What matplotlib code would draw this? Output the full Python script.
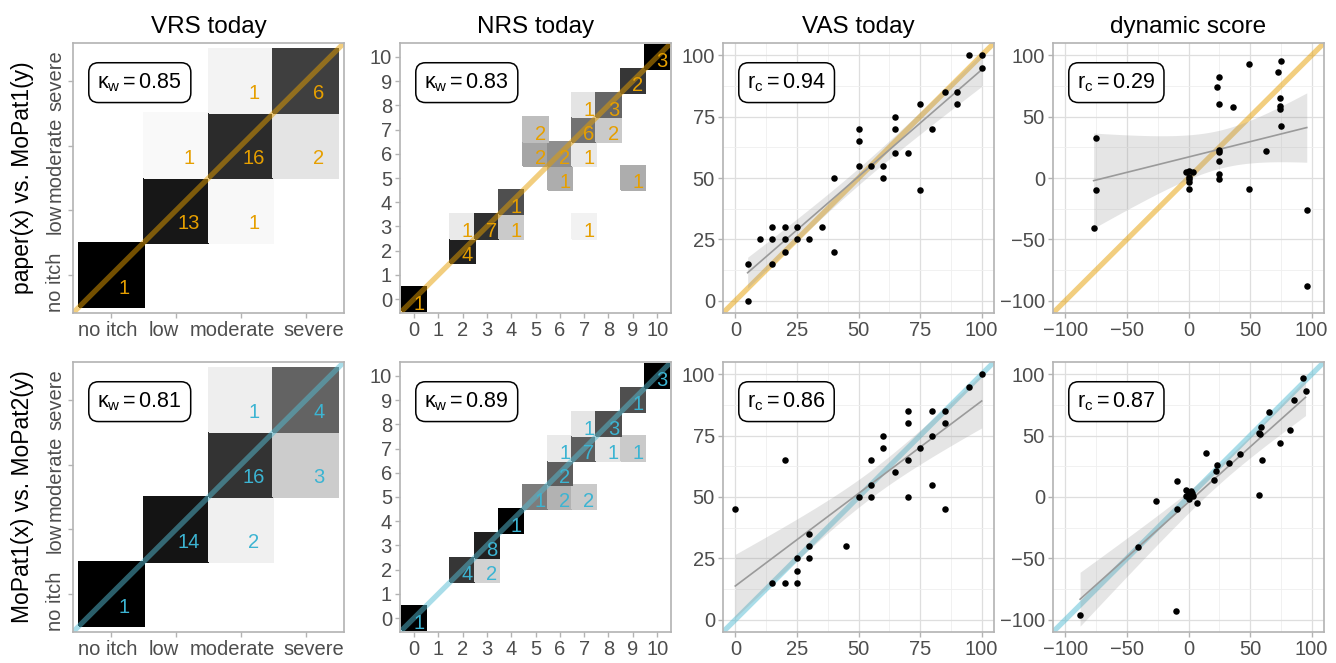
import numpy as np
import matplotlib
matplotlib.use("Agg")
import matplotlib.pyplot as plt
from matplotlib.colors import PowerNorm
from matplotlib.transforms import ScaledTranslation

# -------------------------
# Fonts
# -------------------------
plt.rcParams["font.family"] = ["Liberation Sans", "DejaVu Sans"]
plt.rcParams["mathtext.fontset"] = "custom"
plt.rcParams["mathtext.rm"] = "Liberation Sans"
plt.rcParams["mathtext.it"] = "Liberation Sans"

# -------------------------
# Data
# -------------------------
TITLES = ["VRS today", "NRS today", "VAS today", "dynamic score"]
ROW_LABELS = ["paper(x) vs. MoPat1(y)", "MoPat1(x) vs. MoPat2(y)"]
VRS_LEVELS = ["no itch", "low", "moderate", "severe"]
NRS_LEVELS = [str(i) for i in range(11)]

# VRS tiles (x index, y index, count)
vrs1_x = [0, 1, 2, 1, 2, 3, 2, 3]
vrs1_y = [0, 1, 1, 2, 2, 2, 3, 3]
vrs1_n = [1, 13, 1, 1, 16, 2, 1, 6]

vrs2_x = [0, 1, 2, 2, 3, 2, 3]
vrs2_y = [0, 1, 1, 2, 2, 3, 3]
vrs2_n = [1, 14, 2, 16, 3, 1, 4]

# NRS tiles
nrs1_x = [0, 2, 2, 3, 4, 4, 7, 6, 9, 5, 6, 7, 5, 7, 8, 7, 8, 9, 10]
nrs1_y = [0, 2, 3, 3, 3, 4, 3, 5, 5, 6, 6, 6, 7, 7, 7, 8, 8, 9, 10]
nrs1_n = [1, 4, 1, 7, 1, 1, 1, 1, 1, 2, 2, 1, 2, 6, 2, 1, 3, 2, 3]

nrs2_x = [0, 2, 3, 3, 4, 5, 6, 7, 6, 6, 7, 8, 9, 7, 8, 9, 10]
nrs2_y = [0, 2, 2, 3, 4, 5, 5, 5, 6, 7, 7, 7, 7, 8, 8, 9, 10]
nrs2_n = [1, 4, 2, 8, 1, 1, 2, 2, 2, 1, 7, 1, 1, 1, 3, 1, 3]

# VAS points
vas1_x = [5, 5, 10, 15, 15, 15, 20, 20, 20, 25, 25, 30, 35, 40, 40, 50, 50, 50,
          55, 60, 60, 65, 65, 65, 70, 75, 75, 80, 85, 90, 90, 95, 100, 100]
vas1_y = [15, 0, 25, 30, 25, 15, 30, 25, 20, 30, 25, 25, 30, 50, 20, 70, 65, 55,
          55, 55, 50, 75, 70, 60, 60, 80, 45, 70, 85, 85, 80, 100, 100, 95]

vas2_x = [0, 15, 20, 20, 25, 25, 25, 30, 30, 30, 45, 50, 55, 55, 55, 60, 60, 65,
          70, 70, 70, 70, 75, 80, 80, 80, 85, 85, 85, 95, 100]
vas2_y = [45, 15, 15, 65, 15, 20, 25, 25, 30, 35, 30, 50, 50, 55, 65, 70, 75, 60,
          50, 65, 80, 85, 70, 75, 85, 55, 85, 80, 45, 95, 100]

# dynamic score points
dyn1_x = [-75, -75, -77, -2, 0.5, 4, 0, 0, 0, 0, 25, 23, 25, 25, 25, 25, 25, 25,
          36, 49, 49, 63, 73, 75, 74, 74, 74, 75, 96, 96]
dyn1_y = [33, -10, -41, 5, 6, 5, 1, -1, -3, -9, 82, 74, 60, 23, 21, 14, 3, -1,
          58, 93, -9, 22, 86, 95, 65, 59, 56, 42, -26, -88]

dyn2_x = [-88, -41, -26, -9, -9, -10, -2, -2, -0.5, 0.5, 2, 3, 4, 7, 14, 21, 22,
          23, 33, 42, 57, 57, 58, 59, 60, 65, 74, 82, 86, 93, 95]
dyn2_y = [-96, -41, -3, 13, -10, -93, 6, 1, 2, -2, 5, 3, 1, -5, 36, 14, 21,
          26, 28, 35, 2, 52, 51, 57, 30, 69, 44, 55, 79, 97, 86]

# agreement statistics shown in the boxes
KAPPA = [["0.85", "0.83"], ["0.81", "0.89"]]
RC = [["0.94", "0.29"], ["0.86", "0.87"]]

# -------------------------
# Style
# -------------------------
ROW_COLORS = ["#E69F00", "#3CB4D2"]
LINE_COLORS = ["#E69F00", "#55BDD4"]
GRAY_TXT = "#4d4d4d"
BORDER = "#b3b3b3"
T95 = 2.03  # approx. t quantile for ~30 df

FIG_W, FIG_H = 1336, 663
LEFTS = [73, 400, 723, 1053]
TOPS = [43, 362]
SIZE_W, SIZE_H = 271, 270

# nudges (px) for the crowded VRS category labels
VRS_XLAB_SHIFT = [-3, -12, -9, 8]
VRS_YLAB_SHIFT = [-7, -9, -14, 0]


def style_axes(ax):
    for sp in ax.spines.values():
        sp.set_color(BORDER)
        sp.set_linewidth(1.2)
    ax.tick_params(colors=BORDER, labelcolor=GRAY_TXT, labelsize=14.5,
                   length=3.3, width=1, pad=2.5)


def stat_box(ax, label):
    ax.text(0.09, 0.895, label, transform=ax.transAxes, ha="left", va="top",
            fontsize=15.5, zorder=10,
            bbox=dict(boxstyle="round,pad=0.4,rounding_size=0.45",
                      fc="white", ec="black", lw=1.1))


def shift_labels(fig, labels, dx=None, dy=None):
    for i, lab in enumerate(labels):
        ox = dx[i] / 100 if dx else 0
        oy = dy[i] / 100 if dy else 0
        lab.set_transform(lab.get_transform()
                          + ScaledTranslation(ox, oy, fig.dpi_scale_trans))


def tile_panel(ax, xs, ys, ns, levels, row, kappa):
    k = len(levels)
    xs = np.asarray(xs)
    ys = np.asarray(ys)
    ns = np.asarray(ns, float)
    # shade = mean of row- and column-share of each cell
    row_tot = np.array([ns[ys == y].sum() for y in ys])
    col_tot = np.array([ns[xs == x].sum() for x in xs])
    share = (ns / row_tot + ns / col_tot) / 2

    grid = np.full((k, k), np.nan)
    grid[ys, xs] = share
    edges = np.arange(k + 1) - 0.5
    ax.pcolormesh(edges, edges, np.ma.masked_invalid(grid), cmap="gray_r",
                  norm=PowerNorm(1.3, vmin=0, vmax=1), edgecolors="face",
                  linewidth=0.3, zorder=1)
    ax.axline((0, 0), slope=1, color=LINE_COLORS[row], alpha=0.5, lw=3.8,
              zorder=2)
    for x, y, n in zip(xs, ys, ns):
        ax.text(x + 0.2, y - 0.2, f"{int(n)}", ha="center", va="center",
                color=ROW_COLORS[row], fontsize=14.5, zorder=3)
    pad = 0.085 if k < 5 else 0.07
    ax.set_xlim(-0.5 - pad, k - 0.5 + pad)
    ax.set_ylim(-0.5 - pad, k - 0.5 + pad)
    ax.set_xticks(range(k))
    ax.set_yticks(range(k))
    ax.set_xticklabels(levels)
    if k < 5:
        ax.set_yticklabels(levels, rotation=90, va="center")
        shift_labels(ax.figure, ax.get_xticklabels(), dx=VRS_XLAB_SHIFT)
        shift_labels(ax.figure, ax.get_yticklabels(), dy=VRS_YLAB_SHIFT)
    else:
        ax.set_yticklabels(levels)
    stat_box(ax, r"$\kappa_\mathrm{w} = " + kappa + "$")


def fit_band(x, y):
    x = np.asarray(x, float)
    y = np.asarray(y, float)
    b, a = np.polyfit(x, y, 1)
    xs = np.linspace(x.min(), x.max(), 100)
    yhat = a + b * xs
    n = len(x)
    s = np.sqrt(np.sum((y - (a + b * x)) ** 2) / (n - 2))
    se = s * np.sqrt(1 / n + (xs - x.mean()) ** 2 / np.sum((x - x.mean()) ** 2))
    return xs, yhat, yhat - T95 * se, yhat + T95 * se


def scatter_panel(ax, x, y, lim, major, minor, row, rc):
    ax.set_axisbelow(True)
    ax.grid(which="major", color="#dedede", lw=0.9)
    ax.grid(which="minor", color="#efefef", lw=0.6)
    ax.set_xticks(major)
    ax.set_yticks(major)
    ax.set_xticks(minor, minor=True)
    ax.set_yticks(minor, minor=True)
    ax.tick_params(which="minor", length=0)
    ax.axline((0, 0), slope=1, color=LINE_COLORS[row], alpha=0.5, lw=3.8,
              zorder=1)
    xs, yhat, lo, hi = fit_band(x, y)
    ax.fill_between(xs, lo, hi, color="#999999", alpha=0.25, lw=0, zorder=2)
    ax.plot(xs, yhat, color="#9a9a9a", lw=1.2, zorder=3)
    ax.scatter(x, y, s=22, color="black", lw=0, zorder=4)
    ax.set_xlim(*lim)
    ax.set_ylim(*lim)
    stat_box(ax, r"$\mathrm{r_c} = " + rc + "$")


def main():
    fig = plt.figure(figsize=(FIG_W / 100, FIG_H / 100), dpi=100)
    axes = [[None] * 4 for _ in range(2)]
    for r, top in enumerate(TOPS):
        for c, left in enumerate(LEFTS):
            ax = fig.add_axes([left / FIG_W, 1 - (top + SIZE_H) / FIG_H,
                               SIZE_W / FIG_W, SIZE_H / FIG_H])
            style_axes(ax)
            axes[r][c] = ax

    tile_panel(axes[0][0], vrs1_x, vrs1_y, vrs1_n, VRS_LEVELS, 0, KAPPA[0][0])
    tile_panel(axes[1][0], vrs2_x, vrs2_y, vrs2_n, VRS_LEVELS, 1, KAPPA[1][0])
    tile_panel(axes[0][1], nrs1_x, nrs1_y, nrs1_n, NRS_LEVELS, 0, KAPPA[0][1])
    tile_panel(axes[1][1], nrs2_x, nrs2_y, nrs2_n, NRS_LEVELS, 1, KAPPA[1][1])

    vas_major = [0, 25, 50, 75, 100]
    vas_minor = [12.5, 37.5, 62.5, 87.5]
    dyn_major = [-100, -50, 0, 50, 100]
    dyn_minor = [-75, -25, 25, 75]
    scatter_panel(axes[0][2], vas1_x, vas1_y, (-5, 105), vas_major, vas_minor, 0, RC[0][0])
    scatter_panel(axes[1][2], vas2_x, vas2_y, (-5, 105), vas_major, vas_minor, 1, RC[1][0])
    scatter_panel(axes[0][3], dyn1_x, dyn1_y, (-110, 110), dyn_major, dyn_minor, 0, RC[0][1])
    scatter_panel(axes[1][3], dyn2_x, dyn2_y, (-110, 110), dyn_major, dyn_minor, 1, RC[1][1])

    for c, title in enumerate(TITLES):
        axes[0][c].set_title(title, fontsize=17.5, pad=7)

    for r, label in enumerate(ROW_LABELS):
        yc = 1 - (TOPS[r] + SIZE_H / 2) / FIG_H
        fig.text(22 / FIG_W, yc, label, rotation=90, ha="center", va="center",
                 fontsize=16.5)

    fig.savefig("out.png", dpi=100)
    plt.close(fig)


if __name__ == "__main__":
    main()
